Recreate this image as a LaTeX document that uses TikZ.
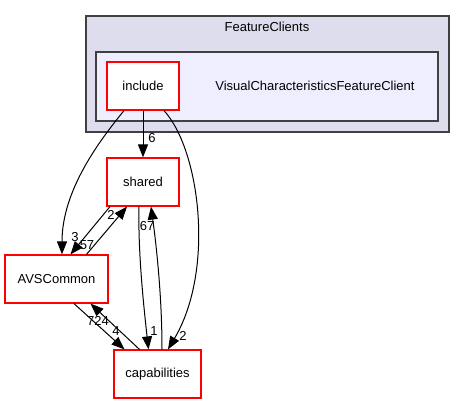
\documentclass[tikz,border=0pt]{standalone}
\usepackage{fontspec}
\setmainfont{Liberation Sans}
\usetikzlibrary{arrows.meta}
\definecolor{outerfill}{HTML}{DDDDEE}
\definecolor{innerfill}{HTML}{EEEEFF}
\definecolor{clusterline}{HTML}{404040}

\begin{document}
\begin{tikzpicture}[x=1pt, y=-1pt,
  dirbox/.style={rectangle, draw=red, fill=white, line width=1.2pt, minimum height=48pt, font=\fontsize{13}{15}\selectfont},
  txt/.style={font=\fontsize{13}{15}\selectfont, inner sep=0pt},
  deplabel/.style={font=\fontsize{13}{15}\selectfont, inner sep=0pt},
  dep/.style={-{Triangle[length=13pt,width=10pt]}, line width=1pt}]
  \useasboundingbox (0,0) rectangle (465,404);

  % clusters
  \draw[fill=outerfill, draw=clusterline, line width=1.4pt] (86,16) rectangle (449,132);
  \node[txt] (fc) at (267,27) {FeatureClients};
  \draw[fill=innerfill, draw=clusterline, line width=1.4pt] (96,52) rectangle (438,121);
  \node[txt] (vc) at (315,86) {VisualCharacteristicsFeatureClient};

  % directories
  \node[dirbox, minimum width=72pt]  (inc) at (143,86)    {include};
  \node[dirbox, minimum width=72pt]  (sh)  at (143,182)   {shared};
  \node[dirbox, minimum width=103pt] (avs) at (56.5,279)  {AVSCommon};
  \node[dirbox, minimum width=87pt]  (cap) at (157.5,374) {capabilities};

  % dependencies
  \draw[dep] ([xshift=-19pt]inc.south) .. controls (100,140) and (62,190) .. ([xshift=5.5pt]avs.north);
  \draw[dep] (inc) -- (sh);
  \draw[dep] ([xshift=21pt]inc.south) .. controls (200,150) and (215,270) .. ([xshift=10.5pt]cap.north);
  \draw[dep] ([xshift=-33pt]sh.south) -- ([xshift=14pt]avs.north);
  \draw[dep] ([xshift=30pt]avs.north) -- ([xshift=-16pt]sh.south);
  \draw[dep] ([xshift=-4pt]sh.south) .. controls (138,250) and (143,300) .. ([xshift=-9pt]cap.north);
  \draw[dep] ([xshift=4.5pt]cap.north) .. controls (162,300) and (157,250) .. ([xshift=8pt]sh.south);
  \draw[dep] ([xshift=17.5pt]avs.south) -- ([xshift=-33pt]cap.north);
  \draw[dep] ([xshift=-18pt]cap.north) -- ([xshift=34pt]avs.south);

  % counts
  \node[deplabel] (l6)   at (152,138) {6};
  \node[deplabel] (l2a)  at (111,215) {2};
  \node[deplabel] (l3)   at (75,237)  {3};
  \node[deplabel] (l57)  at (87,245)  {57};
  \node[deplabel] (l67)  at (147,226) {67};
  \node[deplabel] (l724) at (98,321)  {724};
  \node[deplabel] (l4)   at (116,331) {4};
  \node[deplabel] (l1)   at (154,331) {1};
  \node[deplabel] (l2b)  at (183,336) {2};
\end{tikzpicture}
\end{document}
